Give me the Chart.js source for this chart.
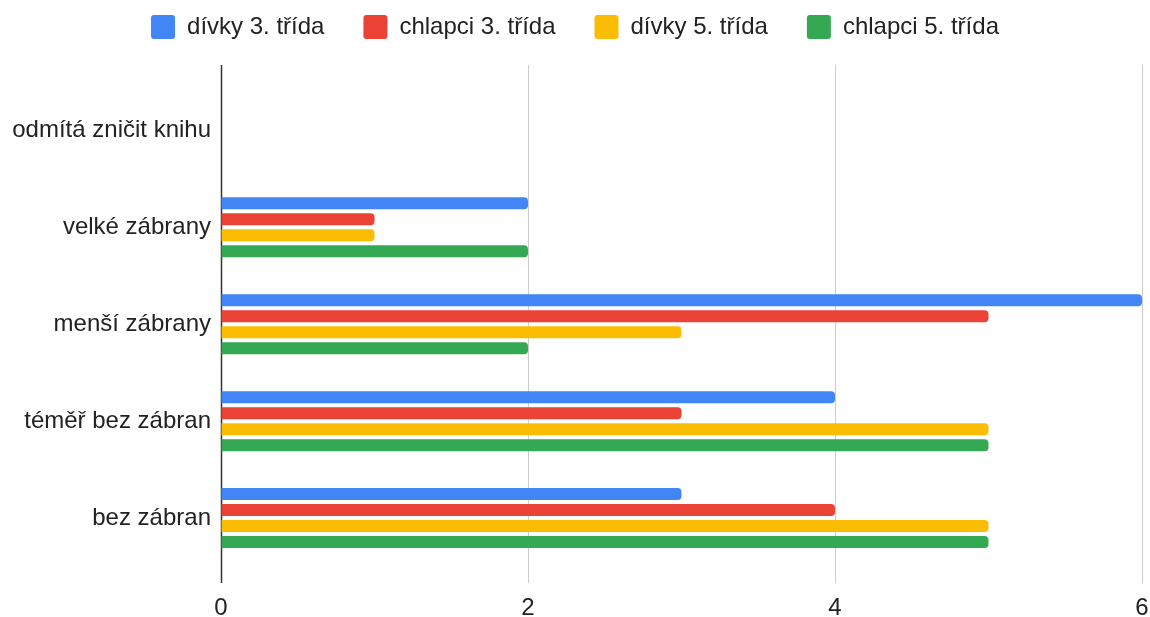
<!DOCTYPE html>
<html>
<head>
<meta charset="utf-8">
<script src="https://cdn.jsdelivr.net/npm/chart.js@4.4.1/dist/chart.umd.min.js"></script>
<style>
  html, body { margin: 0; padding: 0; background: #fff; }
  #wrap { width: 1150px; height: 617px; }
</style>
</head>
<body>
<div id="wrap"><canvas id="chart"></canvas></div>
<script>
// data
const categories = ['odmítá zničit knihu', 'velké zábrany', 'menší zábrany', 'téměř bez zábran', 'bez zábran'];
const seriesNames = ['dívky 3. třída', 'chlapci 3. třída', 'dívky 5. třída', 'chlapci 5. třída'];
const divky3 = [0, 2, 6, 4, 3];
const chlapci3 = [0, 1, 5, 3, 4];
const divky5 = [0, 1, 3, 5, 5];
const chlapci5 = [0, 2, 2, 5, 5];
const xTicks = [0, 2, 4, 6];

const colors = ['#4285F4', '#EA4335', '#FBBC04', '#34A853'];
const seriesValues = [divky3, chlapci3, divky5, chlapci5];
const FONT = '"Liberation Sans", Arial, sans-serif';

// legend height fixes where the plot starts; legend drawn a bit higher
const legendFix = {
    id: 'legendFix',
    beforeInit(chart) {
        const fit = chart.legend.fit;
        chart.legend.fit = function () {
            fit.call(this);
            this.height = 82;
        };
    },
    beforeDraw(chart) {
        chart.legend.top = 15 - chart.legend.options.labels.padding;
    }
};

// vertical grid lines run a little above and below the category band
const gridLines = {
    id: 'gridLines',
    beforeDatasetsDraw(chart) {
        const ctx = chart.ctx;
        const x = chart.scales.x;
        ctx.save();
        xTicks.forEach(v => {
            const px = Math.round(x.getPixelForValue(v)) + 0.5;
            ctx.beginPath();
            ctx.strokeStyle = v === 0 ? '#333333' : '#cccccc';
            ctx.lineWidth = v === 0 ? 1.5 : 1;
            ctx.moveTo(px, 65);
            ctx.lineTo(px, 583);
            ctx.stroke();
        });
        ctx.restore();
    }
};

const ctx = document.getElementById('chart').getContext('2d');
new Chart(ctx, {
    type: 'bar',
    data: {
        labels: categories,
        datasets: seriesNames.map((name, i) => ({
            label: name,
            data: seriesValues[i],
            backgroundColor: colors[i],
            borderRadius: 4,
            borderSkipped: 'start',
            categoryPercentage: 0.66,
            barPercentage: 0.75
        }))
    },
    options: {
        indexAxis: 'y',
        responsive: true,
        maintainAspectRatio: false,
        animation: false,
        layout: { padding: 0 },
        plugins: {
            legend: {
                position: 'top',
                align: 'center',
                labels: {
                    boxWidth: 24,
                    boxHeight: 24,
                    useBorderRadius: true,
                    borderRadius: 3,
                    padding: 39,
                    color: '#222',
                    font: { family: FONT, size: 24 }
                }
            },
            tooltip: { enabled: false }
        },
        scales: {
            x: {
                min: 0,
                max: 6,
                afterBuildTicks(scale) {
                    scale.ticks = xTicks.map(v => ({ value: v }));
                },
                afterFit(scale) {
                    scale.height = 50.5;
                    scale.paddingRight = 8;
                },
                grid: { color: 'transparent', drawTicks: true, tickLength: 16 },
                border: { display: false },
                ticks: {
                    padding: 11,
                    color: '#222',
                    font: { family: FONT, size: 24 }
                }
            },
            y: {
                afterFit(scale) {
                    scale.width = 221;
                },
                grid: { display: false, drawTicks: false },
                border: { display: false },
                ticks: {
                    padding: 10,
                    color: '#222',
                    font: { family: FONT, size: 24 }
                }
            }
        }
    },
    plugins: [legendFix, gridLines]
});
</script>
</body>
</html>
